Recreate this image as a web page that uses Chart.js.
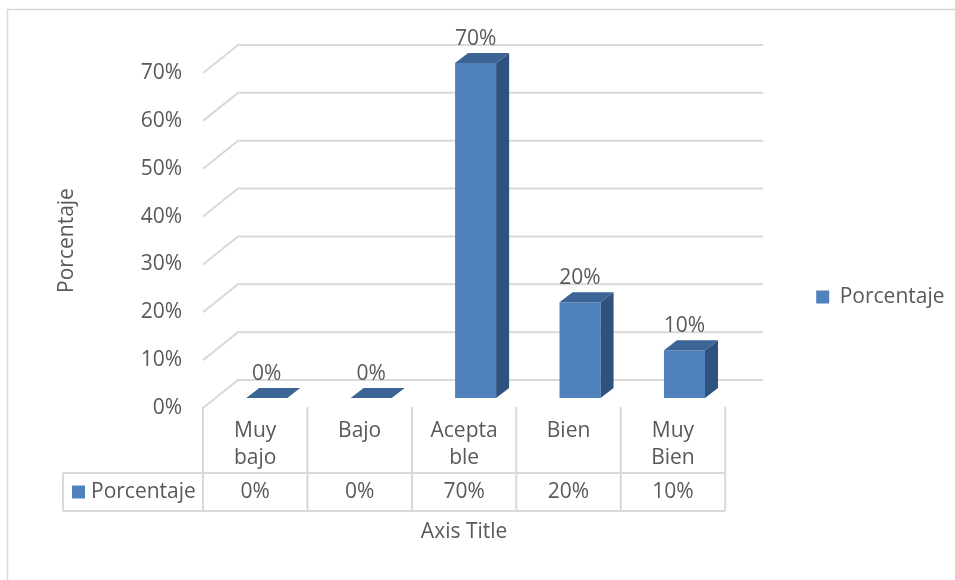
<!DOCTYPE html>
<html>
<head>
<meta charset="utf-8">
<script src="https://cdn.jsdelivr.net/npm/chart.js@4.4.1/dist/chart.umd.min.js"></script>
<style>
  html, body { margin: 0; padding: 0; background: #fff; }
  #wrap { width: 955px; height: 580px; }
</style>
</head>
<body>
<div id="wrap"><canvas id="chart" width="955" height="580"></canvas></div>
<script>
const categories = ['Muy bajo', 'Bajo', 'Aceptable', 'Bien', 'Muy Bien'];
const categoryLines = [['Muy', 'bajo'], ['Bajo'], ['Acepta', 'ble'], ['Bien'], ['Muy', 'Bien']];
const seriesName = 'Porcentaje';
const values = [0, 0, 70, 20, 10];
const yMax = 70;
const yStep = 10;

const textColor = '#595959';
const lineColor = '#d9d9d9';
const frontColor = '#4f81bd';
const sideColor = '#30527f';
const topColor = '#3c6495';
const fontFamily = "'Open Sans', sans-serif";
const fontSize = 21;

// floor depth (front edge -> back wall) and column placement/depth
const wall = { dxLeft: 35, dxRight: 38, dy: -28 };
const barShift = { dx: 11.5, dy: -10 };
const barDepth = { dx: 13, dy: -10 };

const pct = v => v + '%';

Chart.defaults.font.family = fontFamily;
Chart.defaults.font.size = fontSize;
Chart.defaults.color = textColor;

const threeD = {
  id: 'threeD',
  beforeDraw(chart) {
    const ctx = chart.ctx;
    ctx.save();
    ctx.fillStyle = '#fff';
    ctx.fillRect(0, 0, chart.width, chart.height);
    ctx.strokeStyle = lineColor;
    ctx.lineWidth = 1.5;
    ctx.strokeRect(7.5, 9.5, chart.width + 20, chart.height + 20);
    ctx.restore();
  },
  beforeDatasetsDraw(chart) {
    const { ctx, chartArea: a, scales: { x, y } } = chart;
    ctx.save();
    ctx.strokeStyle = lineColor;
    ctx.lineWidth = 2;

    // side wall + back wall gridlines
    y.ticks.forEach(t => {
      const py = y.getPixelForValue(t.value);
      ctx.beginPath();
      ctx.moveTo(a.left, py);
      ctx.lineTo(a.left + wall.dxLeft, py + wall.dy);
      ctx.lineTo(a.right + wall.dxRight, py + wall.dy);
      ctx.stroke();
    });

    // data table
    const half = (a.right - a.left) / categories.length / 2;
    const rowTop = a.bottom + 65;
    const rowBottom = a.bottom + 103;
    const tableLeft = 63;
    ctx.beginPath();
    for (let i = 0; i <= categories.length; i++) {
      const px = i < categories.length ? x.getPixelForValue(i) - half : x.getPixelForValue(i - 1) + half;
      ctx.moveTo(px, a.bottom - 1);
      ctx.lineTo(px, rowBottom);
    }
    ctx.moveTo(tableLeft, rowTop);
    ctx.lineTo(a.right, rowTop);
    ctx.moveTo(tableLeft, rowBottom);
    ctx.lineTo(a.right, rowBottom);
    ctx.moveTo(tableLeft, rowTop);
    ctx.lineTo(tableLeft, rowBottom);
    ctx.stroke();

    const rowMid = (rowTop + rowBottom) / 2;
    ctx.fillStyle = frontColor;
    ctx.fillRect(72, rowMid - 6.5, 13, 13);
    ctx.fillStyle = textColor;
    ctx.font = fontSize + 'px ' + fontFamily;
    ctx.textBaseline = 'middle';
    ctx.textAlign = 'left';
    ctx.fillText(seriesName, 91, rowMid);
    ctx.textAlign = 'center';
    values.forEach((v, i) => ctx.fillText(pct(v), x.getPixelForValue(i), rowMid));
    ctx.restore();
  },
  beforeDatasetDraw(chart) {
    chart.ctx.save();
    chart.ctx.translate(barShift.dx, barShift.dy);
  },
  afterDatasetDraw(chart, args) {
    const ctx = chart.ctx;
    args.meta.data.forEach((bar, i) => {
      const l = bar.x - bar.width / 2;
      const r = bar.x + bar.width / 2;
      ctx.fillStyle = sideColor;
      ctx.beginPath();
      ctx.moveTo(r, bar.y);
      ctx.lineTo(r + barDepth.dx, bar.y + barDepth.dy);
      ctx.lineTo(r + barDepth.dx, bar.base + barDepth.dy);
      ctx.lineTo(r, bar.base);
      ctx.closePath();
      ctx.fill();

      ctx.fillStyle = topColor;
      ctx.beginPath();
      ctx.moveTo(l, bar.y);
      ctx.lineTo(l + barDepth.dx, bar.y + barDepth.dy);
      ctx.lineTo(r + barDepth.dx, bar.y + barDepth.dy);
      ctx.lineTo(r, bar.y);
      ctx.closePath();
      ctx.fill();

      ctx.fillStyle = textColor;
      ctx.font = fontSize + 'px ' + fontFamily;
      ctx.textAlign = 'center';
      ctx.textBaseline = 'middle';
      ctx.fillText(pct(values[i]), bar.x, bar.y - 24);
    });
    ctx.restore();
  }
};

new Chart(document.getElementById('chart'), {
  type: 'bar',
  data: {
    labels: categories,
    datasets: [{
      label: seriesName,
      data: values,
      backgroundColor: frontColor,
      borderWidth: 0,
      barPercentage: 0.393,
      categoryPercentage: 1.0,
      clip: false
    }]
  },
  options: {
    responsive: false,
    animation: false,
    layout: {
      padding: { top: 49.4, left: 40, right: 1.4, bottom: 35.4 }
    },
    scales: {
      x: {
        grid: { display: false, drawTicks: false },
        border: { display: false },
        ticks: {
          autoSkip: false,
          maxRotation: 0,
          padding: 9,
          font: { size: fontSize, lineHeight: 1.31 },
          callback: (v, i) => categoryLines[i]
        },
        title: {
          display: true,
          text: 'Axis Title',
          font: { size: fontSize },
          padding: { top: 0, bottom: 0 }
        },
        afterFit: scale => { scale.height = 136.6; }
      },
      y: {
        min: 0,
        max: yMax,
        grid: { display: false, drawTicks: false },
        border: { display: false },
        ticks: {
          stepSize: yStep,
          padding: 21,
          callback: v => pct(v)
        },
        title: {
          display: true,
          text: seriesName,
          font: { size: fontSize },
          padding: { top: 14.4, bottom: 0 }
        },
        afterFit: scale => { scale.width = 163; }
      }
    },
    plugins: {
      title: {
        display: true,
        text: '',
        font: { size: 12, lineHeight: 1.2 },
        padding: { top: 0, bottom: 9.2 }
      },
      legend: {
        position: 'right',
        labels: {
          boxWidth: 13,
          boxHeight: 13,
          padding: 91,
          font: { size: fontSize }
        }
      },
      tooltip: { enabled: false }
    }
  },
  plugins: [threeD]
});
</script>
</body>
</html>
